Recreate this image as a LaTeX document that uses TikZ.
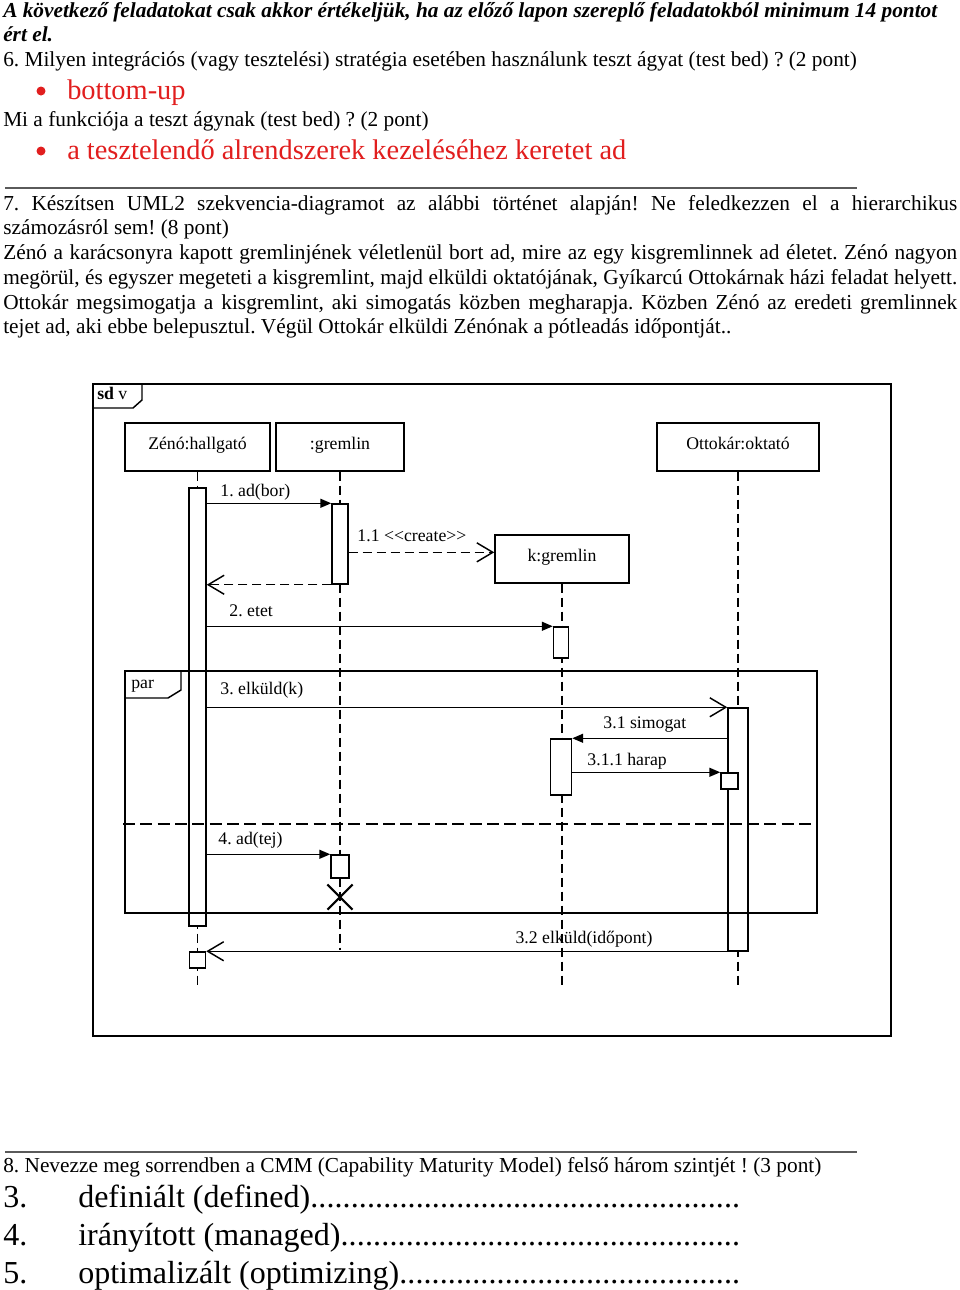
\documentclass[tikz,border=0pt]{standalone}
\usepackage{fontspec}
\setmainfont{Liberation Serif}
\usetikzlibrary{arrows.meta,shapes.misc}
\newlength\pxu \setlength\pxu{0.75pt}
\definecolor{answerred}{RGB}{225,30,30}
\definecolor{rulegray}{RGB}{90,90,90}
\frenchspacing
\tikzstyle{txt}=[anchor=base west, inner sep=0pt, font=\fontsize{16}{18}\selectfont]
\tikzstyle{answer}=[txt, text=answerred, font=\fontsize{21.3}{24}\selectfont]
\tikzstyle{dot}=[circle, fill=answerred, inner sep=0pt, minimum size=9\pxu]
\tikzstyle{level}=[txt, font=\fontsize{24}{28}\selectfont]
\tikzstyle{obj}=[draw, line width=1.1pt, inner sep=0pt, minimum height=48\pxu, text height=9pt, text depth=6pt, font=\fontsize{13.3}{15}\selectfont]
\tikzstyle{act}=[draw, line width=1.1pt, fill=white, inner sep=0pt]
\tikzstyle{lifeline}=[line width=1.1pt, dash pattern=on 7pt off 3.5pt]
\tikzstyle{frame}=[line width=1.1pt]
\tikzstyle{call}=[line width=1.1pt, -{Triangle[length=8.25pt,width=6.75pt]}]
\tikzstyle{reply}=[line width=1.1pt, -{Straight Barb[length=12pt,width=14.25pt]}]
\tikzstyle{lbl}=[anchor=base west, inner sep=0pt, font=\fontsize{13.3}{15}\selectfont]

\begin{document}
\begin{tikzpicture}[x=0.75pt,y=-0.75pt]
  \useasboundingbox (0,0) rectangle (960,1290);

  % questions 6
  \node[txt, font=\fontsize{16}{18}\selectfont\bfseries\itshape] (intro1) at (3,17)
    {\makebox[934\pxu][s]{A következő feladatokat csak akkor értékeljük, ha az előző lapon szereplő feladatokból minimum 14 pontot}};
  \node[txt, font=\fontsize{16}{18}\selectfont\bfseries\itshape] (intro2) at (3,41) {ért el.};
  \node[txt] (q6) at (3,66) {6. Milyen integrációs (vagy tesztelési) stratégia esetében használunk teszt ágyat (test bed) ? (2 pont)};
  \node[dot] (b6) at (41,91) {};
  \node[answer] (a6) at (67,99) {bottom-up};
  \node[txt] (q6b) at (3,126) {Mi a funkciója a teszt ágynak (test bed) ? (2 pont)};
  \node[dot] (b6b) at (41,151) {};
  \node[answer] (a6b) at (67,159) {a tesztelendő alrendszerek kezeléséhez keretet ad};
  \draw[rulegray, line width=1.2pt] (5,188) -- (857,188);

  % question 7
  \node[txt] (q7a) at (3,210) {\makebox[954\pxu][s]{7. Készítsen UML2 szekvencia-diagramot az alábbi történet alapján! Ne feledkezzen el a hierarchikus}};
  \node[txt] (q7b) at (3,234) {számozásról sem! (8 pont)};
  \node[txt] (s1) at (3,259) {\makebox[954\pxu][s]{Zénó a karácsonyra kapott gremlinjének véletlenül bort ad, mire az egy kisgremlinnek ad életet. Zénó nagyon}};
  \node[txt] (s2) at (3,284) {\makebox[954\pxu][s]{megörül, és egyszer megeteti a kisgremlint, majd elküldi oktatójának, Gyíkarcú Ottokárnak házi feladat helyett.}};
  \node[txt] (s3) at (3,309) {\makebox[954\pxu][s]{Ottokár megsimogatja a kisgremlint, aki simogatás közben megharapja. Közben Zénó az eredeti gremlinnek}};
  \node[txt] (s4) at (3,333) {tejet ad, aki ebbe belepusztul. Végül Ottokár elküldi Zénónak a pótleadás időpontját..};

  % sequence diagram
  \node[obj, minimum width=145\pxu] (zeno) at (197.5,447) {Zénó:hallgató};
  \node[obj, minimum width=128\pxu] (gremlin) at (340,447) {:gremlin};
  \node[obj, minimum width=162\pxu] (ottokar) at (738,447) {Ottokár:oktató};
  \node[obj, minimum width=134\pxu] (kgremlin) at (562,559) {k:gremlin};

  \coordinate (zend) at (197.5,985);
  \coordinate (gend) at (340,950);
  \coordinate (kend) at (562,985);
  \coordinate (oend) at (738,985);
  \draw[lifeline] (zeno.south) -- (zend);
  \draw[lifeline] (gremlin.south) -- (gend);
  \draw[lifeline] (kgremlin.south) -- (kend);
  \draw[lifeline] (ottokar.south) -- (oend);

  \node[act, minimum width=17\pxu, minimum height=438\pxu] (zact) at (197.5,707) {};
  \node[act, minimum width=16\pxu, minimum height=16\pxu] (zret) at (197.5,960) {};
  \node[act, minimum width=16\pxu, minimum height=80\pxu] (gact) at (340,544) {};
  \node[act, minimum width=18\pxu, minimum height=23\pxu] (gdie) at (340,866.5) {};
  \node[act, minimum width=15\pxu, minimum height=31\pxu] (kact1) at (561,642.5) {};
  \node[act, minimum width=21\pxu, minimum height=56\pxu] (kact2) at (561,767) {};
  \node[act, minimum width=20\pxu, minimum height=243\pxu] (oact) at (738,829.5) {};
  \node[act, minimum width=17\pxu, minimum height=16\pxu] (obite) at (729.5,781) {};
  \node[draw, cross out, line width=1.6pt, minimum size=23\pxu] (death) at (340,897) {};
  \coordinate (kin) at ([yshift=5pt]kgremlin.west);

  \draw[call] (zact.east |- gact.north) -- (gact.north west)
    node[lbl, pos=0, shift={(13,-7)}] {1. ad(bor)};
  \draw[reply, lifeline] (gact.east |- kin) -- (kin)
    node[lbl, pos=0, shift={(8,-11)}] {1.1 <{}<create>{}>};
  \draw[reply, lifeline] (gact.south west) -- (zact.east |- gact.south);
  \draw[call] (zact.east |- kact1.north) -- (kact1.north west)
    node[lbl, pos=0, shift={(22,-10)}] {2. etet};
  \draw[reply] (zact.east |- oact.north) -- (oact.north west)
    node[lbl, pos=0, shift={(13,-13)}] {3. elküld(k)};
  \draw[call] (oact.west |- kact2.north) -- (kact2.north east)
    node[lbl, pos=1, shift={(30.5,-10)}] {3.1 simogat};
  \draw[call] (kact2.east |- obite.north) -- (obite.north west)
    node[lbl, pos=0, shift={(14.5,-7)}] {3.1.1 harap};
  \draw[call] (zact.east |- gdie.north) -- (gdie.north west)
    node[lbl, pos=0, shift={(11,-10)}] {4. ad(tej)};
  \draw[reply] (oact.west |- zret.north) -- (zret.north east)
    node[lbl, pos=0, anchor=base east, shift={(-74,-8)}] {3.2 elküld(időpont)};

  % frames
  \draw[frame] (93,384) rectangle (891,1036);
  \draw[frame] (93,408) -- (133,408) -- (142,400) -- (142,384);
  \node[lbl] (sdname) at (97,399) {\textbf{sd} v};
  \draw[frame] (125,671) rectangle (817,913);
  \draw[frame] (125,698) -- (168,698) -- (181,690) -- (181,671);
  \node[lbl] (parname) at (131,688) {par};
  \draw[frame, dash pattern=on 9pt off 4pt] (123,824) -- (817,824);

  % question 8
  \draw[rulegray, line width=1.2pt] (5,1152) -- (857,1152);
  \node[txt] (q8) at (3,1172) {8. Nevezze meg sorrendben a CMM (Capability Maturity Model) felső három szintjét ! (3 pont)};
  \node[level] (n3) at (3,1207) {3.};
  \node[level] (l3) at (78,1207) {\makebox[662\pxu][l]{definiált (defined)\xleaders\hbox{.}\hfill}};
  \node[level] (n4) at (3,1245) {4.};
  \node[level] (l4) at (78,1245) {\makebox[662\pxu][l]{irányított (managed)\xleaders\hbox{.}\hfill}};
  \node[level] (n5) at (3,1283) {5.};
  \node[level] (l5) at (78,1283) {\makebox[662\pxu][l]{optimalizált (optimizing)\xleaders\hbox{.}\hfill}};
\end{tikzpicture}
\end{document}
